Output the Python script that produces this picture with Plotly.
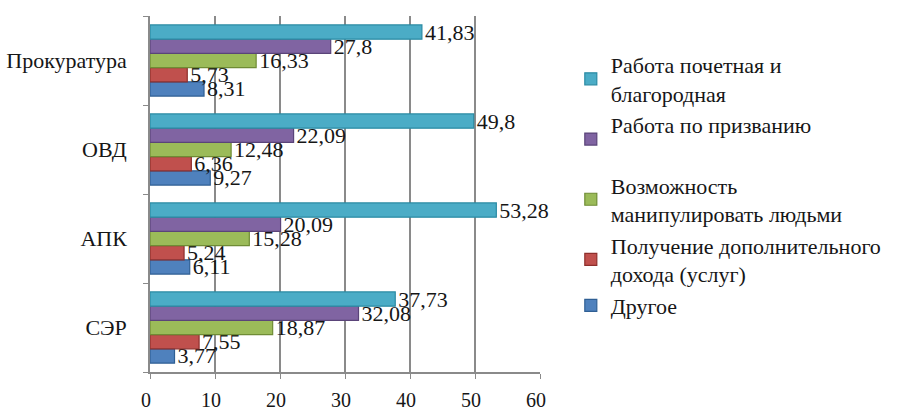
import plotly.graph_objects as go

# Categories (bottom to top) and series values, %
categories = ["СЭР", "АПК", "ОВД", "Прокуратура"]

series_names = [
    "Другое",
    "Получение дополнительного<br>дохода (услуг)",
    "Возможность<br>манипулировать людьми",
    "Работа по призванию<br>\u00a0",
    "Работа почетная и<br>благородная",
]
drugoe = [3.77, 6.11, 9.27, 8.31]
dohod = [7.55, 5.24, 6.36, 5.73]
manipul = [18.87, 15.28, 12.48, 16.33]
prizvanie = [32.08, 20.09, 22.09, 27.8]
pochet = [37.73, 53.28, 49.8, 41.83]

series_values = [drugoe, dohod, manipul, prizvanie, pochet]
colors = ["#4F81BD", "#C0504D", "#9BBB59", "#8064A2", "#4BACC6"]
edges = ["#2F5F94", "#8E2F2C", "#6F8C35", "#5A4479", "#2A8AA3"]

x_ticks = [0, 10, 20, 30, 40, 50, 60]

FONT = "Liberation Serif"
TEXT = "#161616"


def fmt(v):
    s = f"{v:.2f}".rstrip("0").rstrip(".")
    return s.replace(".", ",")


fig = go.Figure()
for i, (name, vals, c, e) in enumerate(zip(series_names, series_values, colors, edges)):
    fig.add_trace(go.Bar(
        y=categories,
        x=vals,
        orientation="h",
        name=name,
        legendgroup=f"g{i}",
        marker=dict(color=c, line=dict(color=e, width=1.2)),
        text=[fmt(v) for v in vals],
        textposition="outside",
        constraintext="none",
        cliponaxis=False,
        textfont=dict(family=FONT, size=22, color=TEXT),
    ))

fig.update_layout(
    width=904,
    height=410,
    barmode="group",
    bargap=0.2,
    bargroupgap=0,
    plot_bgcolor="white",
    paper_bgcolor="white",
    margin=dict(l=150, r=364, t=16, b=38),
    font=dict(family=FONT, size=22, color=TEXT),
    legend=dict(
        x=1.079,
        y=0.922,
        xanchor="left",
        yanchor="top",
        traceorder="reversed",
        tracegroupgap=13,
        font=dict(family=FONT, size=22, color=TEXT),
        itemwidth=30,
    ),
    xaxis=dict(
        range=[0, 60],
        tickvals=x_ticks,
        ticktext=[str(t) for t in x_ticks],
        showgrid=True,
        gridcolor="#8A8A8A",
        gridwidth=1.5,
        zeroline=False,
        showline=True,
        linecolor="#8A8A8A",
        linewidth=1.5,
        ticks="outside",
        ticklen=5,
        tickcolor="#8A8A8A",
        ticklabelstandoff=4,
        ticklabelshift=-4,
        automargin=False,
        tickfont=dict(family=FONT, size=20, color=TEXT),
    ),
    yaxis=dict(
        showgrid=False,
        zeroline=False,
        showline=True,
        linecolor="#8A8A8A",
        linewidth=1.5,
        ticks="outside",
        ticklen=5,
        tickcolor="#8A8A8A",
        tickson="boundaries",
        ticklabelstandoff=17,
        automargin=False,
        tickfont=dict(family=FONT, size=22, color=TEXT),
    ),
)

fig.write_html("out.html")
